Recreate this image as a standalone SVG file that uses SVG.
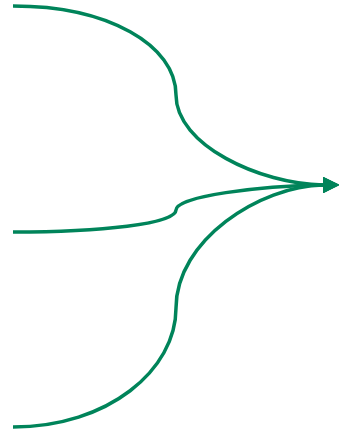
<svg xmlns="http://www.w3.org/2000/svg" width="339" height="433" viewBox="0 0 339 433">
<style>.e{fill:none;stroke:#00845a;stroke-width:3.5}</style>
<defs><marker id="a" viewBox="0 0 10 10" refX="0" refY="5" markerWidth="4.7" markerHeight="4.7" orient="auto" markerUnits="strokeWidth"><path d="M0,0L10,5L0,10z" fill="#00845a"/></marker></defs>
<g id="edges">
<path class="e" d="M13,6 C108,6 176,45 176,95 C176,145 260,184 323,185" marker-end="url(#a)"/>
<path class="e" d="M13,232 C100,232 176,224 176,210 C176,196 260,186 323,185" marker-end="url(#a)"/>
<path class="e" d="M13,427 C108,427 176,370 176,308 C176,240 260,186 323,185" marker-end="url(#a)"/>
</g>
</svg>
